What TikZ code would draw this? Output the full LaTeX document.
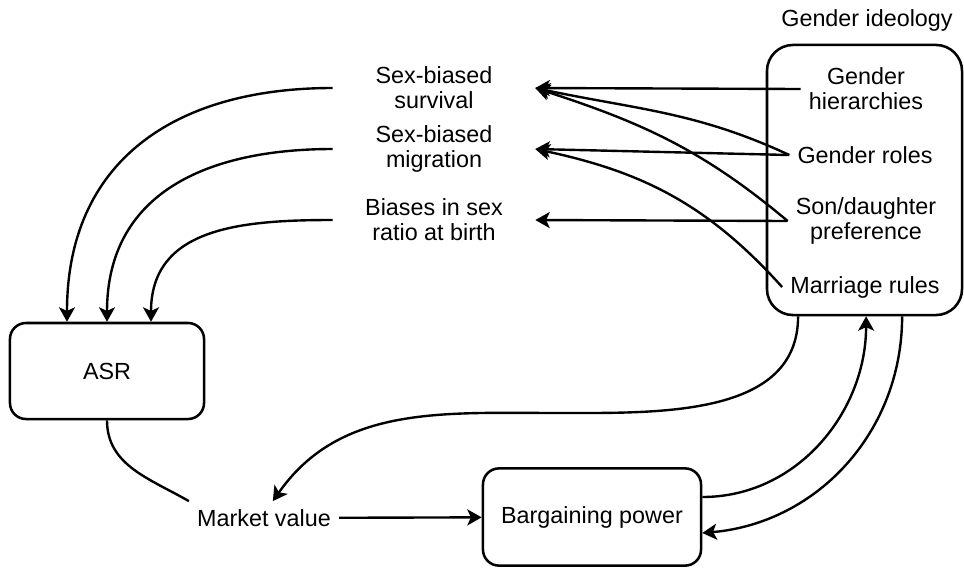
\documentclass[tikz,border=0pt]{standalone}
\usepackage{fontspec}
\setmainfont{Liberation Sans}
\usepackage{tikz}
\usetikzlibrary{arrows.meta}

\begin{document}
\begin{tikzpicture}[x=0.025cm, y=-0.025cm,
	font=\fontsize{16.6}{17.8}\selectfont,
	box/.style={shape=rectangle, draw=black, line width=1.8pt, rounded corners=0.4cm},
	effect/.style={align=center, minimum width=5.05cm, inner sep=0pt},
	item/.style={align=center, inner xsep=0.2cm, inner ysep=0pt},
	link/.style={line width=1.7pt},
	arr/.style={link, -{Stealth[length=0.36cm, width=0.4cm, inset=0.09cm]}}]
	
	\useasboundingbox (0, 0) rectangle (964, 567);
	
	\node[effect] (surv)  at (434, 88)   {Sex-biased\\survival};
	\node[effect] (migr)  at (434, 149)  {Sex-biased\\migration};
	\node[effect] (ratio) at (434, 220)  {Biases in sex\\ratio at birth};
	
	\node[box, minimum width=4.85cm, minimum height=2.4cm] (asr) at (107, 371) {ASR};
	\node[inner sep=0.2cm] (market) at (264, 518) {Market value};
	\node[box, minimum width=5.45cm, minimum height=2.43cm] (bargain) at (592, 517) {Bargaining power};
	
	\node[box, rounded corners=0.65cm, minimum width=4.875cm, minimum height=6.75cm] (ideo) at (864.5, 180) {};
	\node (ideolabel) at (867, 20) {Gender ideology};
	
	\node[item] (hier)  at (866, 89)  {Gender\\hierarchies};
	\node[item] (roles) at (865, 155) {Gender roles};
	\node[item] (pref)  at (866, 221) {Son/daughter\\preference};
	\node[item] (marr)  at (865, 287) {Marriage rules};
	
	\coordinate (dip) at (560, 413);
	
    \path[arr] (hier.west) edge (surv.east);
    \path[arr] (roles.west) edge[out=155, in=-12] (surv.east);
    \path[arr] (roles.west) edge (migr.east);
    \path[arr] (pref.west) edge[out=140, in=-18] (surv.east);
    \path[arr] (pref.west) edge (ratio.east);
    \path[arr] (marr.west) edge[out=132, in=-12] (migr.east);
    
    \path[arr] (surv.west) edge[out=180, in=90, looseness=1.15] ([xshift=-1cm]asr.north);
    \path[arr] (migr.west) edge[out=180, in=90, looseness=1.15] (asr.north);
    \path[arr] (ratio.west) edge[out=180, in=90, looseness=1.15] ([xshift=1.1cm]asr.north);
    
    \path[link] (asr.south) edge[out=-90, in=150] (market.north west);
    \path[arr] (market) edge (bargain);
    
    \draw[arr] ([xshift=-1.66cm]ideo.south) to[out=-90, in=0] (dip) to[out=180, in=55] ([xshift=0.22cm]market.north);
    \path[arr] ([yshift=0.5cm]bargain.east) edge[out=0, in=-90] ([xshift=0.04cm]ideo.south);
    \path[arr] ([xshift=0.94cm]ideo.south) edge[out=-90, in=5] ([yshift=-0.4cm]bargain.east);
    
\end{tikzpicture}
\end{document}
